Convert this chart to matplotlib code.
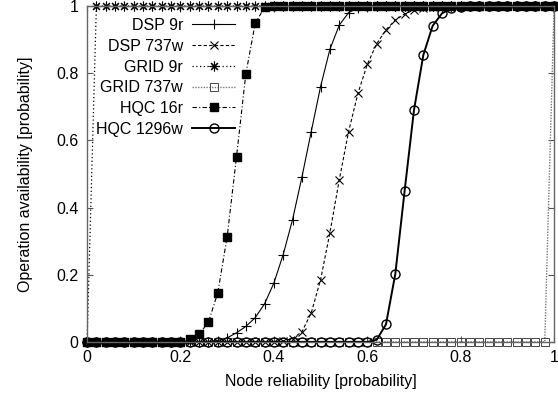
import numpy as np
import matplotlib
matplotlib.use('Agg')
import matplotlib.pyplot as plt

plt.rcParams['font.family'] = ['Liberation Sans', 'DejaVu Sans']
plt.rcParams['font.size'] = 11.5

# node reliability, sampled every 0.02
x = np.round(np.arange(51) * 0.02, 2)

dsp_9r = [0, 0, 0, 0, 0, 0, 0, 0, 0, 0, 0, 0, 0,
          0.001, 0.004, 0.012, 0.027, 0.046, 0.072, 0.113, 0.175, 0.26, 0.364,
          0.49, 0.626, 0.76, 0.871, 0.943, 0.98, 0.995, 0.999,
          1, 1, 1, 1, 1, 1, 1, 1, 1, 1, 1, 1, 1, 1, 1, 1, 1, 1, 1, 1]
dsp_737w = [0, 0, 0, 0, 0, 0, 0, 0, 0, 0, 0, 0, 0, 0, 0, 0, 0, 0, 0, 0,
            0.001, 0.003, 0.01, 0.03, 0.086, 0.185, 0.325, 0.482, 0.626, 0.74,
            0.826, 0.887, 0.929, 0.958, 0.976, 0.988, 0.995, 0.998, 0.999,
            1, 1, 1, 1, 1, 1, 1, 1, 1, 1, 1, 1]
grid_9r = [0,
           1, 1, 1, 1, 1, 1, 1, 1, 1, 1, 1, 1, 1, 1, 1, 1, 1, 1, 1, 1, 1, 1, 1, 1, 1,
           1, 1, 1, 1, 1, 1, 1, 1, 1, 1, 1, 1, 1, 1, 1, 1, 1, 1, 1, 1, 1, 1, 1, 1, 1]
grid_737w = [0, 0, 0, 0, 0, 0, 0, 0, 0, 0, 0, 0, 0, 0, 0, 0, 0, 0, 0, 0, 0, 0, 0, 0, 0,
             0, 0, 0, 0, 0, 0, 0, 0, 0, 0, 0, 0, 0, 0, 0, 0, 0, 0, 0, 0, 0, 0, 0, 0, 0,
             1]
hqc_16r = [0, 0, 0, 0, 0, 0, 0, 0, 0, 0, 0.001,
           0.008, 0.023, 0.059, 0.147, 0.313, 0.551, 0.798, 0.948, 0.996,
           1, 1, 1, 1, 1, 1, 1, 1, 1, 1, 1, 1, 1, 1, 1, 1, 1, 1, 1, 1, 1, 1, 1, 1, 1,
           1, 1, 1, 1, 1, 1]
hqc_1296w = [0, 0, 0, 0, 0, 0, 0, 0, 0, 0, 0, 0, 0, 0, 0, 0, 0, 0, 0, 0, 0, 0, 0, 0, 0,
             0, 0, 0, 0, 0, 0,
             0.006, 0.052, 0.202, 0.45, 0.69, 0.854, 0.941, 0.978, 0.993, 0.998,
             1, 1, 1, 1, 1, 1, 1, 1, 1, 1]

ticks = [0, 0.2, 0.4, 0.6, 0.8, 1]
tick_labels = ['0', '0.2', '0.4', '0.6', '0.8', '1']

fig = plt.figure(figsize=(5.58, 3.98), dpi=100)
ax = fig.add_axes([0.156, 0.141, 0.837, 0.844])

common = dict(clip_on=False)
ax.plot(x, dsp_9r, color='k', lw=0.8, ls='-', marker='+', ms=7, mew=0.8,
        label='DSP 9r', **common)
ax.plot(x, dsp_737w, color='k', lw=0.8, ls=(0, (3, 2)), marker='x', ms=5.5, mew=0.8,
        label='DSP 737w', **common)
ax.plot(x, grid_9r, color='k', lw=0.9, ls=(0, (1, 2)), marker=(8, 2, 0), ms=7, mew=0.8,
        label='GRID 9r', **common)
ax.plot(x, grid_737w, color='#777777', lw=1.0, ls=(0, (1, 1)), marker='s', ms=5.5,
        mfc='none', mec='#444444', mew=0.7, label='GRID 737w', **common)
ax.plot(x, hqc_16r, color='k', lw=0.8, ls=(0, (4, 2, 1, 2)), marker='s', ms=5.5,
        mfc='k', mec='k', label='HQC 16r', **common)
ax.plot(x, hqc_1296w, color='k', lw=1.4, ls='-', marker='o', ms=6.5, mfc='none',
        mec='k', mew=1.0, label='HQC 1296w', **common)

ax.set_xlim(0, 1)
ax.set_ylim(0, 1)
ax.set_xticks(ticks)
ax.set_xticklabels(tick_labels)
ax.set_yticks(ticks)
ax.set_yticklabels(tick_labels)
ax.tick_params(direction='in', length=4, width=0.8, color='#555555', pad=6,
               top=True, right=True)
for s in ax.spines.values():
    s.set_color('#666666')
    s.set_linewidth(1.0)

ax.set_xlabel('Node reliability [probability]', labelpad=6)
ax.set_ylabel('Operation availability [probability]', labelpad=17)

# gnuplot style key: text first, right aligned
ax.legend(loc='upper right', bbox_to_anchor=(0.317, 0.964), frameon=False,
          markerfirst=False, borderpad=0, borderaxespad=0, handlelength=2.7,
          handletextpad=0.56, labelspacing=0.36, numpoints=1)

plt.savefig('out.png', dpi=100)
